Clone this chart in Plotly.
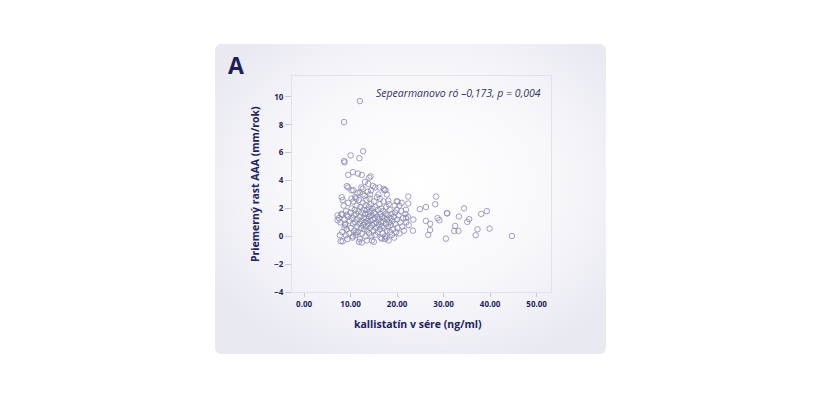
import base64
import plotly.graph_objects as go

# ---- data ----
kallistatin = [
    12.0, 8.6, 12.7, 10.0, 11.9, 8.6, 8.7, 9.5, 10.5, 11.6, 12.4, 13.1, 14.0, 14.3, 13.8,
    9.2, 9.5, 10.2, 12.6, 12.0, 15.3, 17.1, 17.3, 8.1, 8.3, 10.2, 11.2, 14.2, 16.0, 17.8,
    18.1, 19.9, 21.0, 22.4, 22.4, 24.9, 26.2, 28.2, 28.4, 30.7, 19.9, 21.9, 21.9, 23.5, 23.4,
    26.2, 27.1, 27.1, 26.7, 28.7, 29.1, 30.5, 7.2, 7.2, 8.2, 9.2, 8.8, 8.7, 7.7, 9.0,
    7.9, 8.3, 12.4, 14.6, 16.7, 17.4, 19.4, 10.5, 11.2,
    34.4, 39.3, 38.1, 30.8, 33.3, 35.5, 35.1, 32.5, 32.3, 33.2, 37.3, 39.9, 36.9, 44.7, 20.1,
    7.5, 7.8, 8.0, 8.2, 8.5, 8.7, 8.9, 9.0, 9.2, 9.4, 9.5, 9.7, 9.8, 10.0, 10.1,
    10.2, 10.3, 10.4, 10.5, 10.6, 10.7, 10.8, 10.9, 11.0, 11.0, 11.1, 11.2, 11.3, 11.4, 11.5,
    11.5, 11.6, 11.7, 11.8, 11.9, 12.0, 12.0, 12.1, 12.2, 12.3, 12.3, 12.4, 12.5, 12.6, 12.7,
    12.8, 12.8, 12.9, 13.0, 13.0, 13.1, 13.2, 13.2, 13.3, 13.4, 13.4, 13.5, 13.6, 13.6, 13.7,
    13.8, 13.8, 13.9, 14.0, 14.0, 14.1, 14.2, 14.2, 14.3, 14.4, 14.5, 14.5, 14.6, 14.7, 14.8,
    14.8, 14.9, 15.0, 15.0, 15.1, 15.2, 15.3, 15.3, 15.4, 15.5, 15.6, 15.7, 15.8, 15.8, 15.9,
    16.0, 16.1, 16.2, 16.3, 16.4, 16.5, 16.5, 16.6, 16.7, 16.8, 16.9, 17.0, 17.0, 17.1, 17.2,
    17.3, 17.4, 17.5, 17.6, 17.7, 17.8, 17.9, 18.0, 18.1, 18.2, 18.3, 18.4, 18.5, 18.6, 18.7,
    18.8, 18.9, 19.0, 19.2, 19.3, 19.5, 19.6, 19.8, 20.0, 20.1, 20.3, 20.5, 20.7, 20.9, 21.1,
    21.3, 21.5, 21.8, 22.0, 22.3, 22.5, 9.3, 11.8, 13.5, 15.0, 17.7, 12.6, 14.4, 10.6, 16.3,
    18.2, 19.5, 20.5, 17.5, 16.2,
]
growth = [
    9.7, 8.2, 6.1, 5.8, 5.6, 5.4, 5.3, 4.4, 4.6, 4.5, 4.4, 3.9, 4.2, 4.3, 3.75,
    3.6, 3.5, 3.3, 3.4, 3.15, 3.5, 3.4, 3.3, 2.8, 2.6, 2.7, 2.7, 3.0, 3.0, 3.0,
    2.55, 2.5, 2.4, 2.85, 2.35, 1.95, 2.1, 2.3, 2.85, 1.66, 1.9, 1.9, 1.3, 1.2, 0.4,
    1.1, 0.9, 0.45, 0.1, 1.3, 1.15, -0.17, 1.5, 1.15, 1.55, 1.55, 0.8, 0.63, 0.07, 0.07,
    -0.36, -0.36, -0.45, -0.3, -0.17, -0.2, -0.1, 0.0, 0.27,
    2.0, 1.8, 1.6, 1.64, 1.42, 1.23, 1.03, 0.74, 0.38, 0.38, 0.5, 0.55, 0.07, 0.02, 2.5,
    1.3, 1.0, 1.6, 0.3, 2.2, 1.2, 0.9, 1.8, 0.5, 1.4, 2.4, 0.2, 1.1, 1.7, 0.6,
    2.0, 1.3, -0.1, 0.9, 2.5, 1.5, 0.4, 1.9, 1.0, 2.8, 0.1, 1.6, 2.2, 0.7, 1.2,
    3.1, 0.3, 1.8, 2.6, 0.9, 1.4, -0.2, 2.1, 0.6, 1.1, 3.5, 1.7, 0.2, 2.4, 0.8,
    1.3, 1.9, 0.5, 2.9, 1.0, 1.6, 0.0, 2.2, 0.7, 1.3, 2.6, 1.9, 0.4, 1.1, 3.2,
    1.6, 0.9, 2.1, 0.2, 1.4, 2.7, 0.6, 1.8, 1.1, 2.3, 0.0, 1.5, 0.8, 2.0, 1.2,
    3.6, 0.4, 1.7, 2.5, 0.9, 1.3, 0.1, 2.1, 1.6, 0.6, 1.0, 2.8, 1.4, 0.3, 1.9,
    0.8, 1.2, 2.3, 0.5, 1.6, -0.1, 1.0, 2.0, 0.7, 1.4, 0.2, 1.8, 1.1, 2.5, 0.6,
    1.3, 0.0, 1.6, 0.9, 2.1, 0.4, 1.2, 1.5, 0.7, -0.3, 1.0, 1.9, 0.3, 1.3, 0.8,
    1.6, 0.1, 1.1, 0.5, 1.4, 0.9, 1.7, 0.3, 1.2, 0.6, 1.5, 0.2, 1.0, 1.8, 0.7,
    1.3, 0.4, 1.6, 1.0, 1.4, 0.8, -0.2, -0.4, -0.3, -0.4, -0.1, 3.0, 3.3, 3.3, 2.7,
    2.3, 2.2, 2.2, 3.3, 3.5,
]
x_ticks = [0, 10, 20, 30, 40, 50]
x_tick_labels = ["0.00", "10.00", "20.00", "30.00", "40.00", "50.00"]
y_ticks = [-4, -2, 0, 2, 4, 6, 8, 10]

NAVY = "#23235e"
FONT = "Open Sans"

# card background with a soft radial gradient (SVG data URI)
svg = """<svg xmlns='http://www.w3.org/2000/svg' width='391' height='310' viewBox='0 0 391 310'>
<defs><radialGradient id='g' cx='0.52' cy='0.45' r='0.62'>
<stop offset='0' stop-color='#ffffff'/><stop offset='0.55' stop-color='#f8f8fb'/>
<stop offset='1' stop-color='#e9e9f2'/></radialGradient></defs>
<rect x='0' y='0' width='391' height='310' rx='6' ry='6' fill='url(#g)'/></svg>"""
svg_uri = "data:image/svg+xml;base64," + base64.b64encode(svg.encode()).decode()

OFF = 8  # page body margin offset
L, R, T, B = 292 - OFF, 551 - OFF, 76 - OFF, 292 - OFF
W, H = R - L, B - T


def px(xp):
    return (xp - OFF - L) / W


def py(yp):
    return (B - (yp - OFF)) / H


fig = go.Figure()
fig.add_trace(go.Scatter(
    x=kallistatin, y=growth, mode="markers",
    marker=dict(symbol="circle-open", size=5.5, color="#8989af", line=dict(width=0.8)),
    hoverinfo="x+y", showlegend=False,
))

fig.update_layout(
    width=821, height=397,
    margin=dict(l=L, r=821 - R, t=T, b=397 - B),
    paper_bgcolor="white",
    plot_bgcolor="rgba(255,255,255,0.75)",
    font=dict(family=FONT, color=NAVY),
    images=[dict(source=svg_uri, xref="paper", yref="paper",
                 x=px(215), y=py(44), sizex=(606 - 215) / W, sizey=(354 - 44) / H,
                 sizing="stretch", layer="below", xanchor="left", yanchor="top")],
    xaxis=dict(range=[-2.6, 53.1], tickvals=x_ticks, ticktext=x_tick_labels,
               ticks="outside", ticklen=4, tickcolor="#c8c8d8", tickwidth=1,
               tickfont=dict(size=8, family=FONT, color=NAVY, weight="bold"),
               showgrid=False, zeroline=False, showline=True, linecolor="#e2e2ec",
               linewidth=1, mirror=True, fixedrange=True),
    yaxis=dict(range=[-4, 11.5], tickvals=y_ticks,
               ticks="outside", ticklen=6, tickcolor="#c8c8d8", tickwidth=1,
               tickfont=dict(size=8, family=FONT, color=NAVY, weight="bold"),
               showgrid=False, zeroline=False, showline=True, linecolor="#e2e2ec",
               linewidth=1, mirror=True, fixedrange=True),
    annotations=[
        dict(text="A", xref="paper", yref="paper", x=px(226), y=py(65),
             xanchor="left", yanchor="middle", showarrow=False,
             font=dict(size=23, family=FONT, color="#1e1e5a", weight="bold")),
        dict(text="Sepearmanovo ró –0,173, p = 0,004", xref="paper", yref="paper",
             x=px(543), y=py(93), xanchor="right", yanchor="middle", showarrow=False,
             font=dict(size=10.5, family=FONT, color="#33335e", style="italic")),
        dict(text="kallistatín v sére (ng/ml)", xref="paper", yref="paper",
             x=px(418), y=py(324), xanchor="center", yanchor="middle", showarrow=False,
             font=dict(size=10.5, family=FONT, color=NAVY, weight="bold")),
        dict(text="Priemerný rast AAA (mm/rok)", xref="paper", yref="paper",
             x=px(255), y=py(184), xanchor="center", yanchor="middle", showarrow=False,
             textangle=-90,
             font=dict(size=10.5, family=FONT, color=NAVY, weight="bold")),
    ],
)

fig.write_html("out.html")
